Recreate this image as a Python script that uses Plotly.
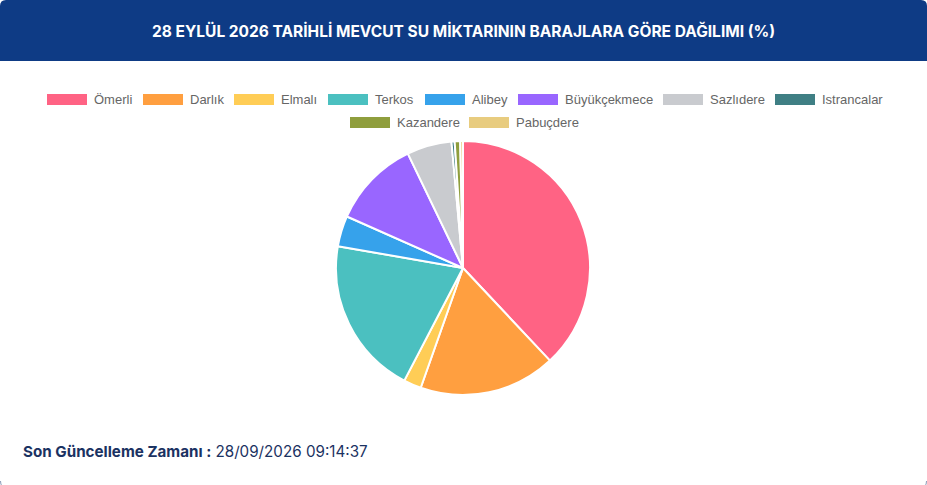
import plotly.graph_objects as go

labels = ["Ömerli", "Darlık", "Elmalı", "Terkos", "Alibey", "Büyükçekmece",
          "Sazlıdere", "Istrancalar", "Kazandere", "Pabuçdere"]
values = [38.0, 17.4, 2.25, 20.1, 3.9, 11.2, 5.7, 0.4, 0.7, 0.35]
colors = ["#ff6384", "#ff9f40", "#ffcd56", "#4bc0c0", "#36a2eb", "#9966ff",
          "#c9cbcf", "#3f7f84", "#8f9e3d", "#e8cc7f"]
title_text = "28 EYLÜL 2026 TARİHLİ MEVCUT SU MİKTARININ BARAJLARA GÖRE DAĞILIMI (%)"
footer_label = "Son Güncelleme Zamanı :"
footer_value = "28/09/2026 09:14:37"

W, H = 927, 485

def px(x):
    return x / W

def py(y):
    return 1 - y / H

fig = go.Figure()
cx, cy, r = 463, 268, 127
fig.add_trace(go.Pie(
    labels=labels, values=values, sort=False, direction="clockwise", rotation=0,
    marker=dict(colors=colors, line=dict(color="white", width=2)),
    textinfo="none", hoverinfo="label+percent", showlegend=False,
    domain=dict(x=[px(cx - r), px(cx + r)], y=[py(cy + r), py(cy - r)]),
))

shapes = []
annotations = []

# header band with rounded top corners
rad = 6
hb = 61
path = (f"M {px(0)},{py(hb)} L {px(0)},{py(rad)} Q {px(0)},{py(0)} {px(rad)},{py(0)} "
        f"L {px(W-rad)},{py(0)} Q {px(W)},{py(0)} {px(W)},{py(rad)} L {px(W)},{py(hb)} Z")
shapes.append(dict(type="path", xref="paper", yref="paper", path=path,
                   fillcolor="#0e3b85", line=dict(width=0), layer="below"))

# faint card corners at the bottom
shapes.append(dict(type="path", xref="paper", yref="paper",
                   path=f"M {px(0.5)},{py(H-4)} Q {px(0.5)},{py(H+3)} {px(7)},{py(H+3)}",
                   line=dict(color="#8a9bb8", width=1)))
shapes.append(dict(type="path", xref="paper", yref="paper",
                   path=f"M {px(W-0.5)},{py(H-4)} Q {px(W-0.5)},{py(H+3)} {px(W-7)},{py(H+3)}",
                   line=dict(color="#8a9bb8", width=1)))

annotations.append(dict(text=f"<b>{title_text}</b>", x=px(463), y=py(31), xref="paper", yref="paper",
                        showarrow=False, xanchor="center", yanchor="middle",
                        font=dict(family="Inter", size=15.5, color="white")))

# custom legend
box_x = [47, 143, 234, 328, 425, 518, 663, 775, 350, 469]
row_y = [99.5, 99.5, 99.5, 99.5, 99.5, 99.5, 99.5, 99.5, 122.5, 122.5]
for lab, col, bx, by in zip(labels, colors, box_x, row_y):
    shapes.append(dict(type="rect", xref="paper", yref="paper",
                       x0=px(bx), x1=px(bx + 40), y0=py(by - 5.5), y1=py(by + 5.5),
                       fillcolor=col, line=dict(width=0)))
    annotations.append(dict(text=lab, x=px(bx + 45), y=py(by), xref="paper", yref="paper",
                            showarrow=False, xanchor="left", yanchor="middle",
                            font=dict(family="Liberation Sans", size=13, color="#666666")))

annotations.append(dict(text=f"<b>{footer_label}</b> {footer_value}", x=px(21), y=py(451),
                        xref="paper", yref="paper", showarrow=False, xanchor="left", yanchor="middle",
                        font=dict(family="Inter", size=15.2, color="#1b3262")))

fig.update_layout(width=W, height=H, margin=dict(l=0, r=0, t=0, b=0),
                  paper_bgcolor="white", plot_bgcolor="white",
                  shapes=shapes, annotations=annotations, showlegend=False)
fig.write_html("out.html", config={"displayModeBar": False},
               post_script="document.body.style.margin='0';document.body.style.overflow='hidden';")
